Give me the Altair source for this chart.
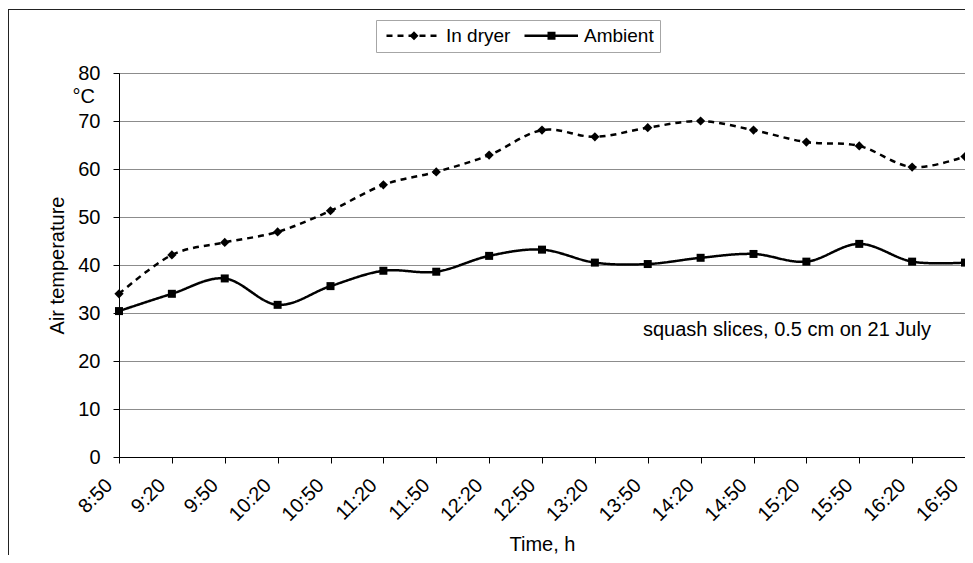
import altair as alt
import pandas as pd

times = ["8:50", "9:20", "9:50", "10:20", "10:50", "11:20", "11:50", "12:20", "12:50",
         "13:20", "13:50", "14:20", "14:50", "15:20", "15:50", "16:20", "16:50"]
dryer = [34.0, 42.1, 44.7, 46.9, 51.3, 56.7, 59.4, 62.9, 68.1,
         66.7, 68.6, 70.0, 68.1, 65.6, 64.8, 60.4, 62.6]
ambient = [30.4, 34.0, 37.2, 31.7, 35.6, 38.8, 38.6, 41.9, 43.2,
           40.5, 40.2, 41.5, 42.3, 40.7, 44.4, 40.7, 40.5]
series = ["In dryer", "Ambient"]
y_ticks = [0, 10, 20, 30, 40, 50, 60, 70, 80]
note = "squash slices, 0.5 cm on 21 July"
unit = "°C"

FONT = "Liberation Sans"
FS = 20

df = pd.DataFrame({
    "time": times * 2,
    "temp": dryer + ambient,
    "series": [series[0]] * len(times) + [series[1]] * len(times),
})

x_enc = alt.X("time:N", sort=times, scale=alt.Scale(type="point", padding=0),
              title="Time, h",
              axis=alt.Axis(labelAngle=-45, labelAlign="right", labelBaseline="middle",
                            labelPadding=19, labelOffset=-10, grid=False,
                            titleY=93, titleBaseline="alphabetic"))
y_enc = alt.Y("temp:Q", scale=alt.Scale(domain=[0, 80], nice=False),
              title="Air temperature",
              axis=alt.Axis(values=y_ticks, grid=True, labelPadding=13,
                            titleX=-56, titleBaseline="alphabetic"))

dash_scale = alt.Scale(domain=series, range=[[6, 5], [1, 0]])

common_leg = dict(title=None, orient="none", legendX=257, legendY=-53,
                  direction="horizontal", padding=6, labelFontSize=19, labelFont=FONT,
                  symbolSize=100, columnPadding=8, labelOffset=45)

# legend A: the line part of each entry (dashed / solid)
legend_lines = alt.Legend(strokeColor="#a6a6a6", labelColor="black",
                          symbolType="M-1,0H9.7", symbolStrokeWidth=2.5,
                          symbolStrokeColor="black", **common_leg)
# legend B: the marker of each entry, laid over legend A
leg_paths = [
    "M-1,0H9.7M4.5,-0.9L5.4,0L4.5,0.9L3.6,0Z",
    "M-1,0H9.7M3.8,-0.8H5.4V0.8H3.8Z",
]
legend_marks = alt.Legend(labelOpacity=0, symbolFillColor="black", symbolOpacity=1,
                          **common_leg)

lines = alt.Chart(df).mark_line(interpolate="cardinal", tension=0, color="black",
                                strokeWidth=2.5).encode(
    x=x_enc, y=y_enc,
    strokeDash=alt.StrokeDash("series:N", scale=dash_scale, legend=legend_lines),
    detail="series:N",
)

points = alt.Chart(df).mark_point(filled=True, color="black", opacity=1).encode(
    x=x_enc, y=y_enc,
    shape=alt.Shape("series:N", scale=alt.Scale(domain=series, range=["diamond", "square"]),
                    legend=None),
    size=alt.Size("series:N", scale=alt.Scale(domain=series, range=[85, 64]), legend=None),
)

legend_layer = alt.Chart(df).mark_point(filled=True, fill="black", opacity=0).encode(
    x=x_enc, y=y_enc,
    shape=alt.Shape("series:N", scale=alt.Scale(domain=series, range=leg_paths),
                    legend=legend_marks),
)

note_layer = alt.Chart(pd.DataFrame({"t": [note]})).mark_text(
    align="left", baseline="middle", fontSize=FS, font=FONT, color="black").encode(
    x=alt.value(524), y=alt.datum(26.4), text="t:N")

unit_layer = alt.Chart(pd.DataFrame({"t": [unit]})).mark_text(
    align="right", baseline="middle", fontSize=FS, font=FONT, color="black").encode(
    x=alt.value(-24), y=alt.datum(74.9), text="t:N")

frame_top = alt.Chart(pd.DataFrame({"a": [0]})).mark_rule(color="#222", strokeWidth=1).encode(
    x=alt.value(-111), x2=alt.value(846), y=alt.value(-63.5))
frame_left = alt.Chart(pd.DataFrame({"a": [0]})).mark_rule(color="#222", strokeWidth=1).encode(
    x=alt.value(-110.5), y=alt.value(-63.5), y2=alt.value(482))

chart = alt.layer(frame_top, frame_left, lines, points, legend_layer, note_layer, unit_layer).resolve_scale(
    shape="independent", strokeDash="independent", size="independent"
).properties(
    width=846, height=384,
    autosize=alt.AutoSizeParams(type="none"),
    padding={"left": 111, "top": 65, "right": 0, "bottom": 98},
    background="white",
).configure_view(
    stroke="#606060", strokeWidth=1
).configure_axis(
    domainColor="black", tickColor="black", tickSize=6, domainWidth=1,
    gridColor="#8c8c8c", gridWidth=1,
    labelFont=FONT, labelFontSize=FS, labelColor="black",
    titleFont=FONT, titleFontSize=FS, titleFontWeight="normal", titleColor="black",
)

chart.save("out.html", embed_options={"renderer": "svg", "actions": False})
